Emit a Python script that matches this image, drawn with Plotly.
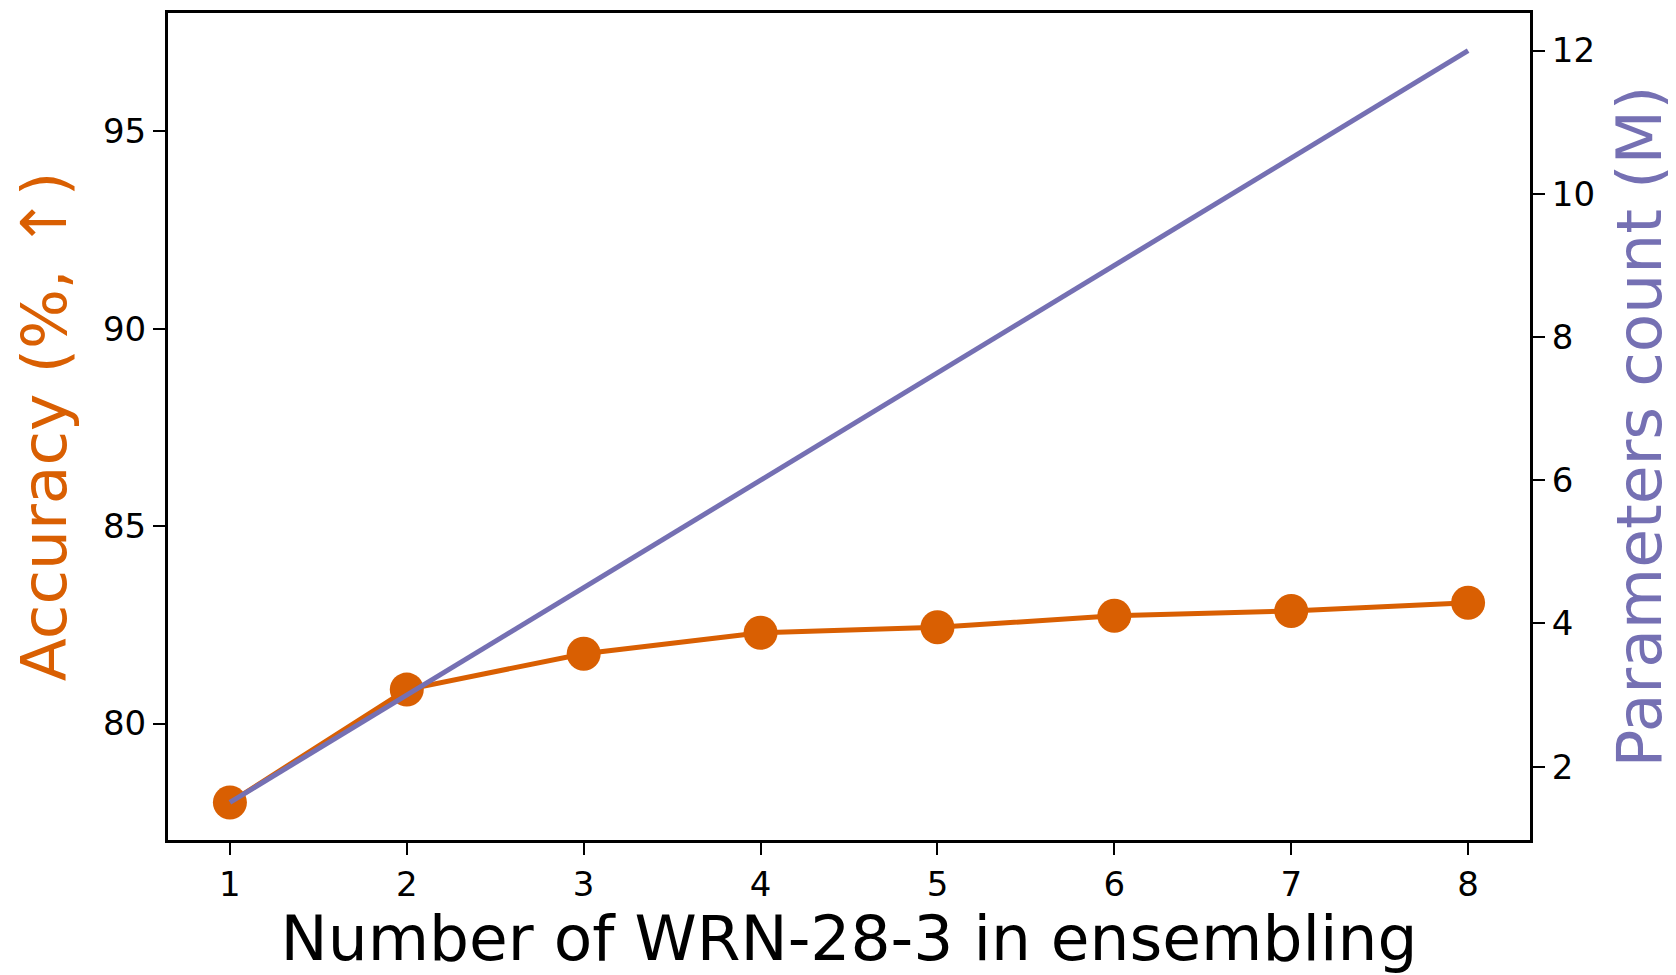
import plotly.graph_objects as go

n_models = [1, 2, 3, 4, 5, 6, 7, 8]
accuracy = [78.0, 80.86, 81.77, 82.30, 82.44, 82.73, 82.85, 83.06]
params_m = [1.5, 3.0, 4.5, 6.0, 7.5, 9.0, 10.5, 12.0]

acc_ticks = [80, 85, 90, 95]
par_ticks = [2, 4, 6, 8, 10, 12]

ORANGE = "#d95f02"
PURPLE = "#7570b3"
FONT = "DejaVu Sans"

fig = go.Figure()
fig.add_trace(go.Scatter(
    x=n_models, y=accuracy, mode="lines+markers",
    line=dict(color=ORANGE, width=5),
    marker=dict(color=ORANGE, size=34),
    yaxis="y", showlegend=False,
))
fig.add_trace(go.Scatter(
    x=n_models, y=params_m, mode="lines",
    line=dict(color=PURPLE, width=5),
    yaxis="y2", showlegend=False,
))

axis_common = dict(
    showgrid=False, zeroline=False, automargin=False,
    showline=True, linecolor="black", linewidth=3,
    ticks="outside", ticklen=12, tickwidth=2, tickcolor="black",
    tickfont=dict(family=FONT, size=34, color="black"),
)

fig.update_layout(
    width=1668, height=967,
    margin=dict(l=160, r=146, t=5, b=135),
    paper_bgcolor="white", plot_bgcolor="white",
    font=dict(family=FONT),
    xaxis=dict(
        range=[0.65, 8.35], tickvals=n_models, mirror=True,
        title=dict(text="Number of WRN-28-3 in ensembling",
                   font=dict(family=FONT, size=63, color="black"), standoff=25),
        **axis_common,
    ),
    yaxis=dict(
        range=[77.05, 98.0], tickvals=acc_ticks,
        title=dict(text="Accuracy (%, ↑)",
                   font=dict(family=FONT, size=63, color=ORANGE), standoff=18),
        **axis_common,
    ),
    yaxis2=dict(
        range=[0.975, 12.525], tickvals=par_ticks, overlaying="y", side="right",
        title=dict(text="Parameters count (M)",
                   font=dict(family=FONT, size=63, color=PURPLE), standoff=34),
        **axis_common,
    ),
)

fig.write_html("out.html")
